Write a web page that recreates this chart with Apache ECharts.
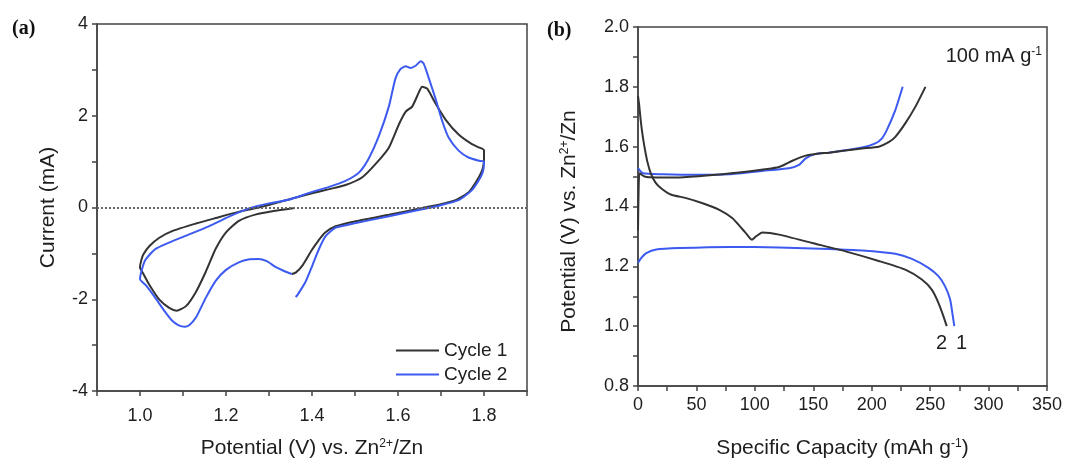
<!DOCTYPE html>
<html><head><meta charset="utf-8">
<script src="https://cdn.jsdelivr.net/npm/echarts/dist/echarts.min.js"></script>
<style>html,body{margin:0;padding:0;background:#fff}#c{width:1067px;height:464px}</style>
</head><body><div id="c"></div>
<script>
// ---- Panel (a): cyclic voltammetry ----
const cycle1Potential = [1.36,1.316,1.27,1.23,1.20,1.176,1.153,1.13,1.107,1.085,1.068,1.045,1.022,1.008,1.0,
  1.003,1.008,1.022,1.045,1.076,1.13,1.176,1.231,1.285,1.339,1.40,1.44,1.478,1.517,1.548,1.579,1.602,1.618,1.633,1.649,1.656,1.668,1.687,1.711,1.741,1.772,1.788,1.8,
  1.8,1.797,1.788,1.765,1.734,1.695,1.656,1.579,1.502,1.455,1.43,1.415,1.40,1.378,1.362,1.353];
const cycle1Current = [-0.01,-0.07,-0.15,-0.29,-0.54,-0.90,-1.40,-1.84,-2.15,-2.25,-2.19,-2.01,-1.69,-1.45,-1.30,
  -1.15,-1.02,-0.84,-0.66,-0.51,-0.35,-0.23,-0.09,0.02,0.16,0.31,0.40,0.49,0.66,0.95,1.31,1.81,2.09,2.20,2.52,2.63,2.59,2.27,1.91,1.59,1.38,1.31,1.25,
  1.05,0.85,0.66,0.34,0.16,0.06,-0.01,-0.16,-0.30,-0.41,-0.55,-0.72,-0.92,-1.26,-1.42,-1.45];
const cycle2Potential = [1.353,1.339,1.316,1.295,1.275,1.255,1.231,1.20,1.176,1.153,1.13,1.115,1.104,1.09,1.075,1.058,1.034,1.014,1.0,
  1.003,1.012,1.035,1.066,1.113,1.16,1.207,1.253,1.30,1.346,1.40,1.44,1.478,1.509,1.532,1.556,1.579,1.594,1.606,1.618,1.629,1.641,1.653,1.660,1.672,1.687,1.703,1.718,1.741,1.764,1.788,1.8,
  1.798,1.792,1.772,1.741,1.695,1.656,1.579,1.502,1.455,1.432,1.416,1.401,1.385,1.366,1.362];
const cycle2Current = [-1.45,-1.40,-1.30,-1.17,-1.12,-1.13,-1.19,-1.36,-1.60,-1.97,-2.40,-2.56,-2.60,-2.57,-2.47,-2.27,-1.95,-1.70,-1.56,
  -1.40,-1.15,-0.91,-0.77,-0.59,-0.41,-0.20,-0.02,0.09,0.17,0.34,0.45,0.58,0.76,1.07,1.57,2.21,2.81,3.02,3.08,3.04,3.09,3.19,3.13,2.81,2.38,1.88,1.52,1.24,1.09,1.02,1.0,
  0.80,0.66,0.38,0.16,0.04,-0.04,-0.19,-0.34,-0.44,-0.62,-0.91,-1.26,-1.62,-1.91,-1.95];
const cvXTicks = [1.0,1.2,1.4,1.6,1.8];
const cvYTicks = [-4,-2,0,2,4];

// ---- Panel (b): charge/discharge profiles ----
const curve2DischargeCap = [0,1,2,3.5,5.5,8,11,15,20,28,41.2,55.3,69.6,80.9,88,92.3,97.4,100.9,106.5,120.7,149.1,177.6,206,228.7,242.9,251.4,257.1,261.4,264.2];
const curve2DischargeV   = [1.77,1.74,1.70,1.65,1.60,1.55,1.51,1.48,1.46,1.44,1.428,1.411,1.389,1.361,1.33,1.311,1.289,1.300,1.313,1.306,1.278,1.250,1.218,1.189,1.156,1.122,1.078,1.033,1.0];
const curve2ChargeCap = [0,0.5,1.4,5.6,15.6,35.5,63.9,92.3,120.7,132.1,143.5,154.8,163.3,191.7,206,214.5,220.2,228.7,237.3,246];
const curve2ChargeV   = [1.32,1.45,1.511,1.50,1.497,1.497,1.505,1.516,1.532,1.553,1.570,1.577,1.580,1.594,1.60,1.615,1.633,1.678,1.733,1.80];
const curve1DischargeCap = [0,2.8,7.1,15.6,35.5,78.1,120.7,163.3,191.7,220.2,234.4,248.6,257.1,262.8,267.1,269,270.7];
const curve1DischargeV   = [1.211,1.228,1.244,1.256,1.261,1.265,1.263,1.258,1.253,1.242,1.225,1.195,1.167,1.133,1.089,1.044,1.0];
const curve1ChargeCap = [0,4.2,21.2,49.7,78.1,106.5,129.2,137.8,143.5,152,163.3,191.7,203.1,208.8,213,220.2,226.5];
const curve1ChargeV   = [1.528,1.511,1.508,1.506,1.508,1.519,1.528,1.539,1.561,1.576,1.58,1.597,1.611,1.628,1.656,1.722,1.80];
const gcdXTicks = [0,50,100,150,200,250,300,350];
const gcdYTicks = [0.8,1.0,1.2,1.4,1.6,1.8,2.0];

const pairs = (xs, ys) => xs.map((x, i) => [x, ys[i]]);
const BLACK = '#333333', BLUE = '#3c5af0', AX = '#444444', TXT = '#1e1e1e';
const FONT = '"Liberation Sans", Arial, sans-serif';
const near = (v, list) => list.some(t => Math.abs(t - v) < 1e-6);
const supRich = { sup: { fontSize: 12, verticalAlign: 'top', fontFamily: FONT, color: TXT } };

function axisCommon(extra, nameExtra) {
  return Object.assign({
    type: 'value',
    axisLine: { show: true, onZero: false, lineStyle: { color: AX, width: 1.5 } },
    axisTick: { show: true, inside: false, length: 5, lineStyle: { color: AX, width: 1.5 } },
    splitLine: { show: false },
    nameLocation: 'middle',
    nameTextStyle: Object.assign({ fontSize: 21, color: TXT, fontFamily: FONT, rich: supRich }, nameExtra || {})
  }, extra);
}

const chart = echarts.init(document.getElementById('c'), null, { renderer: 'canvas' });
chart.setOption({
  animation: false,
  backgroundColor: '#fff',
  grid: [
    { left: 97, top: 24, width: 430, height: 373, show: true, borderColor: AX, borderWidth: 1.5, backgroundColor: 'transparent' },
    { left: 638, top: 27, width: 409, height: 360, show: true, borderColor: AX, borderWidth: 1.5, backgroundColor: 'transparent' }
  ],
  xAxis: [
    axisCommon({ gridIndex: 0, min: 0.9, max: 1.9, interval: 0.1,
      axisLabel: { fontSize: 18, color: TXT, fontFamily: FONT, margin: 16,
        formatter: v => near(v, cvXTicks) ? v.toFixed(1) : '' },
      name: 'Potential (V) vs. Zn{sup|2+}/Zn', nameGap: 47 }),
    axisCommon({ gridIndex: 1, min: 0, max: 350, interval: 25,
      axisLabel: { fontSize: 18, color: TXT, fontFamily: FONT, margin: 10,
        formatter: v => near(v, gcdXTicks) ? String(v) : '' },
      name: 'Specific Capacity (mAh g{sup|-1})', nameGap: 52 })
  ],
  yAxis: [
    axisCommon({ gridIndex: 0, min: -4, max: 4, interval: 1,
      axisLabel: { fontSize: 18, color: TXT, fontFamily: FONT, margin: 9,
        formatter: v => near(v, cvYTicks) ? String(v) : '' },
      name: 'Current (mA)', nameGap: 38 }),
    axisCommon({ gridIndex: 1, min: 0.8, max: 2.0, interval: 0.1,
      axisLabel: { fontSize: 18, color: TXT, fontFamily: FONT, margin: 9,
        formatter: v => near(v, gcdYTicks) ? v.toFixed(1) : '' },
      name: 'Potential (V) vs. Zn{sup|2+}/Zn', nameGap: 58 }, { padding: [0, 30, 0, 0] })
  ],
  legend: {
    data: [{ name: 'Cycle 1', icon: 'rect' }, { name: 'Cycle 2', icon: 'rect' }],
    orient: 'vertical', left: 391, top: 336,
    itemWidth: 43, itemHeight: 2, itemGap: 5,
    textStyle: { fontSize: 19, color: TXT, fontFamily: FONT }
  },
  series: [
    { name: 'Cycle 1', type: 'line', xAxisIndex: 0, yAxisIndex: 0, symbol: 'none', smooth: 0.2,
      lineStyle: { color: BLACK, width: 2 }, itemStyle: { color: BLACK },
      data: pairs(cycle1Potential, cycle1Current),
      markLine: { silent: true, symbol: ['none', 'none'], label: { show: false },
        lineStyle: { type: [2, 2], color: '#666', width: 2 }, data: [{ yAxis: 0 }] } },
    { name: 'Cycle 2', type: 'line', xAxisIndex: 0, yAxisIndex: 0, symbol: 'none', smooth: 0.2,
      lineStyle: { color: BLUE, width: 2 }, itemStyle: { color: BLUE },
      data: pairs(cycle2Potential, cycle2Current) },
    { name: 'c1d', type: 'line', xAxisIndex: 1, yAxisIndex: 1, symbol: 'none', smooth: 0.2,
      lineStyle: { color: BLUE, width: 2 }, data: pairs(curve1DischargeCap, curve1DischargeV) },
    { name: 'c1c', type: 'line', xAxisIndex: 1, yAxisIndex: 1, symbol: 'none', smooth: 0.2,
      lineStyle: { color: BLUE, width: 2 }, data: pairs(curve1ChargeCap, curve1ChargeV) },
    { name: 'c2d', type: 'line', xAxisIndex: 1, yAxisIndex: 1, symbol: 'none', smooth: 0.2,
      lineStyle: { color: BLACK, width: 2 }, data: pairs(curve2DischargeCap, curve2DischargeV) },
    { name: 'c2c', type: 'line', xAxisIndex: 1, yAxisIndex: 1, symbol: 'none', smooth: 0.2,
      lineStyle: { color: BLACK, width: 2 }, data: pairs(curve2ChargeCap, curve2ChargeV) }
  ],
  graphic: [
    { type: 'text', left: 12, top: 19, style: { text: '(a)', font: 'bold 20px "Liberation Serif", serif', fill: '#111' } },
    { type: 'text', left: 547, top: 21, style: { text: '(b)', font: 'bold 20px "Liberation Serif", serif', fill: '#111' } },
    { type: 'text', right: 25, top: 46, style: { text: '100 mA g{sup|-1}', font: '20px ' + FONT, fill: TXT, rich: supRich } },
    { type: 'text', left: 936, top: 333, style: { text: '2', font: '20px ' + FONT, fill: TXT } },
    { type: 'text', left: 956, top: 333, style: { text: '1', font: '20px ' + FONT, fill: TXT } }
  ]
});
</script>
</body></html>
